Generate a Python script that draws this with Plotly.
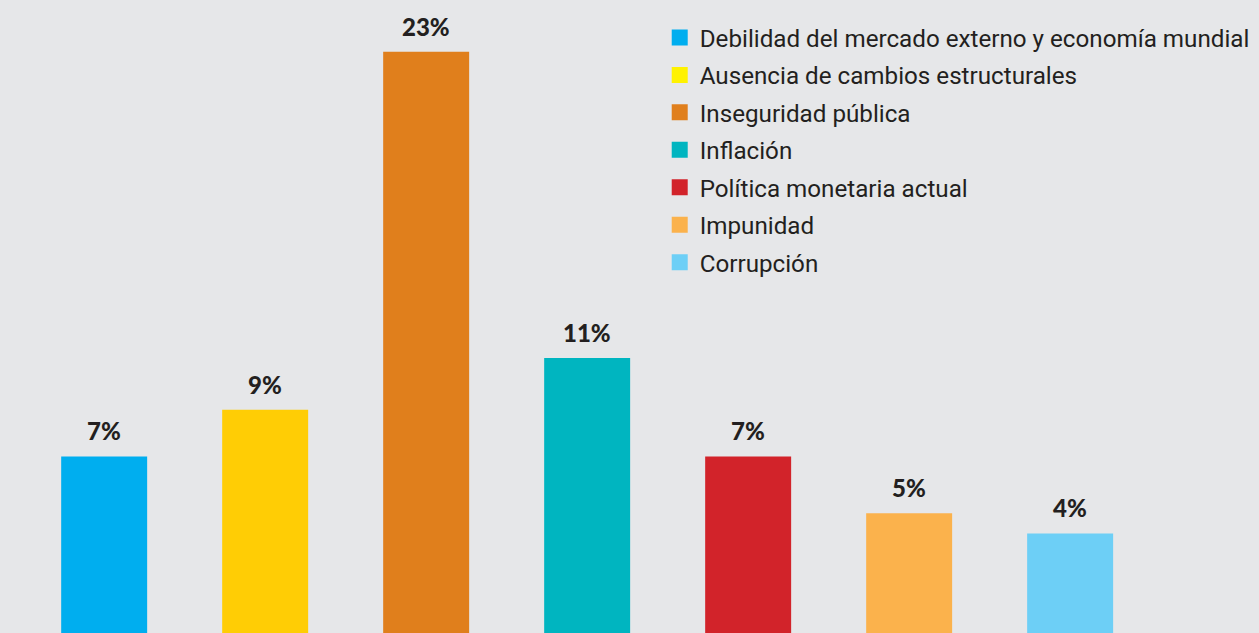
import plotly.graph_objects as go

categories = ["Debilidad del mercado externo y economía mundial",
              "Ausencia de cambios estructurales",
              "Inseguridad pública",
              "Inflación",
              "Política monetaria actual",
              "Impunidad",
              "Corrupción"]
values = [7.0, 8.85, 23.05, 10.9, 7.0, 4.75, 3.95]
value_labels = ["7%", "9%", "23%", "11%", "7%", "5%", "4%"]
bar_colors = ["#00aeef", "#ffcd05", "#e07f1c", "#00b5c0", "#d2232a", "#fbb24c", "#6dcff6"]
legend_colors = ["#00aeef", "#fff200", "#e07f1c", "#00b5c0", "#d2232a", "#fbb24c", "#6dcff6"]

BG = "#e6e7e9"
TXT = "#231f20"

fig = go.Figure()
for cat, val, col in zip(categories, values, bar_colors):
    fig.add_trace(go.Bar(x=[cat], y=[val], marker=dict(color=col, line=dict(width=0)),
                         width=0.534, showlegend=False, hoverinfo="skip"))
for i, (cat, col) in enumerate(zip(categories, legend_colors)):
    fig.add_trace(go.Scatter(x=[None], y=[None], mode="markers", name=cat,
                             legendgroup="g%d" % i,
                             marker=dict(symbol="square", size=16, color=col)))

for cat, val, lab in zip(categories, values, value_labels):
    fig.add_annotation(x=cat, y=val, text=lab, showarrow=False,
                       yanchor="bottom", yshift=9,
                       font=dict(family="Lato, Roboto, sans-serif", size=24,
                                 color=TXT, weight=900))

fig.update_layout(
    width=1259, height=633,
    margin=dict(l=0, r=0, t=0, b=0),
    paper_bgcolor=BG, plot_bgcolor=BG,
    barmode="overlay",
    xaxis=dict(type="category", categoryorder="array", categoryarray=categories,
               range=[-0.647, 7.173], visible=False, showgrid=False, zeroline=False),
    yaxis=dict(range=[0, 25.1], visible=False, showgrid=False, zeroline=False),
    legend=dict(x=0.524, y=0.976, xanchor="left", yanchor="top",
                bgcolor="rgba(0,0,0,0)", tracegroupgap=3,
                font=dict(family="Roboto, sans-serif", size=24.2, color=TXT)),
)

fig.write_html("out.html", config={"displayModeBar": False},
               post_script="document.body.style.margin='0';document.body.style.overflow='hidden';")
